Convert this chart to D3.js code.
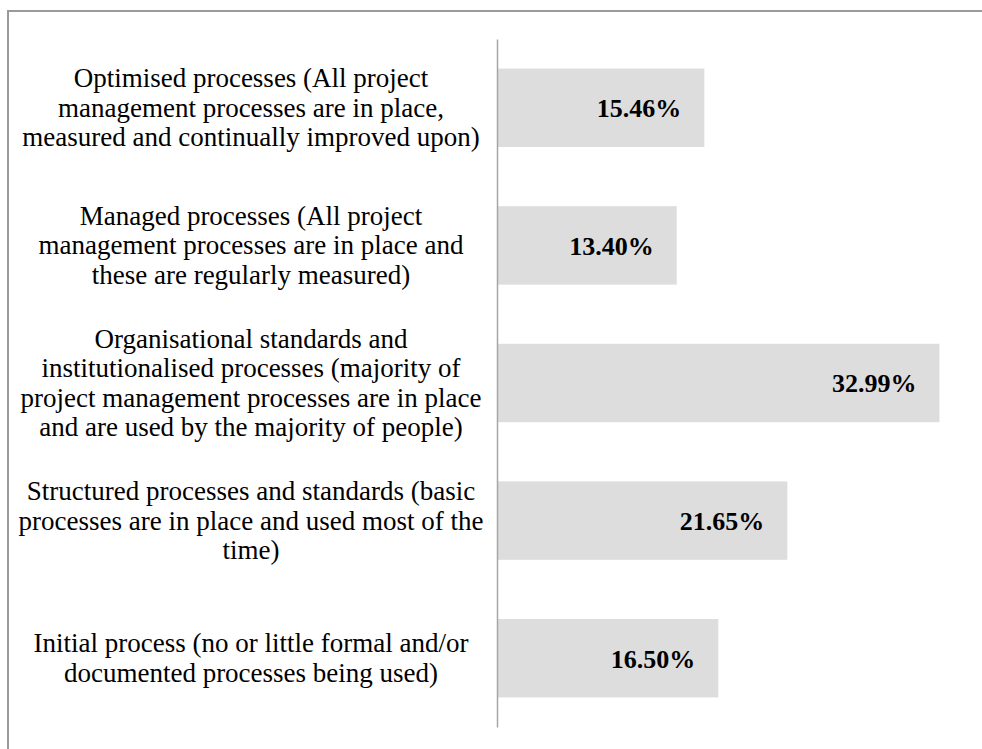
<!DOCTYPE html>
<html>
<head>
<meta charset="utf-8">
<script src="https://cdn.jsdelivr.net/npm/d3@7"></script>
<style>
  html, body { margin: 0; padding: 0; background: #fff; }
  svg { display: block; }
</style>
</head>
<body>
<svg id="chart" width="982" height="749"></svg>
<script>
const categories = [
  "Optimised processes (All project management processes are in place, measured and continually improved upon)",
  "Managed processes (All project management processes are in place and these are regularly measured)",
  "Organisational standards and institutionalised processes (majority of project management processes are in place and are used by the majority of people)",
  "Structured processes and standards (basic processes are in place and used most of the time)",
  "Initial process (no or little formal and/or documented processes being used)"
];
const categoryLines = [
  ["Optimised processes (All project", "management processes are in place,", "measured and continually improved upon)"],
  ["Managed processes (All project", "management processes are in place and", "these are regularly measured)"],
  ["Organisational standards and", "institutionalised processes (majority of", "project management processes are in place", "and are used by the majority of people)"],
  ["Structured processes and standards (basic", "processes are in place and used most of the", "time)"],
  ["Initial process (no or little formal and/or", "documented processes being used)"]
];
const values = [15.46, 13.40, 32.99, 21.65, 16.50];
const valueLabels = ["15.46%", "13.40%", "32.99%", "21.65%", "16.50%"];
const xDomain = [0, 35];

const svg = d3.select("#chart");

// outer frame (left and top edges visible)
svg.append("rect")
  .attr("x", 8).attr("y", 11)
  .attr("width", 1000).attr("height", 800)
  .attr("fill", "none")
  .attr("stroke", "#9a9a9a")
  .attr("stroke-width", 2);

const x = d3.scaleLinear().domain(xDomain).range([497, 966.4]);
const y = d3.scaleBand().domain(categories).range([39, 727])
  .paddingInner(0.43).paddingOuter(0.215);

const data = categories.map((c, i) => ({ c, v: values[i], label: valueLabels[i], lines: categoryLines[i] }));

// bars
svg.append("g").selectAll("rect")
  .data(data).join("rect")
  .attr("x", x(0))
  .attr("y", d => y(d.c))
  .attr("width", d => x(d.v) - x(0))
  .attr("height", y.bandwidth())
  .attr("fill", "#dddddd");

// axis
const axis = d3.axisLeft(y).tickSize(0).tickSizeOuter(0).tickPadding(0).tickFormat("");
const gAxis = svg.append("g").attr("transform", `translate(${x(0)},0)`).call(axis);
gAxis.select(".domain").attr("stroke", "#a6a6a6").attr("stroke-width", 1.5);

// category labels
const lh = 29.5;
const labelCx = 251;
svg.append("g").selectAll("text")
  .data(data).join("text")
  .attr("text-anchor", "middle")
  .attr("font-family", "'Liberation Serif', 'Times New Roman', serif")
  .attr("font-size", 27)
  .attr("fill", "#000")
  .each(function(d) {
    const t = d3.select(this);
    const cy = y(d.c) + y.bandwidth() / 2;
    const n = d.lines.length;
    d.lines.forEach((ln, k) => {
      t.append("tspan")
        .attr("x", labelCx)
        .attr("y", cy + (k - (n - 1) / 2) * lh)
        .attr("dy", "0.33em")
        .text(ln);
    });
  });

// value labels
svg.append("g").selectAll("text")
  .data(data).join("text")
  .attr("x", d => x(d.v) - 23)
  .attr("y", d => y(d.c) + y.bandwidth() / 2)
  .attr("dy", "0.36em")
  .attr("text-anchor", "end")
  .attr("font-family", "'Liberation Serif', 'Times New Roman', serif")
  .attr("font-weight", "bold")
  .attr("font-size", 26)
  .attr("fill", "#000")
  .text(d => d.label);
</script>
</body>
</html>
